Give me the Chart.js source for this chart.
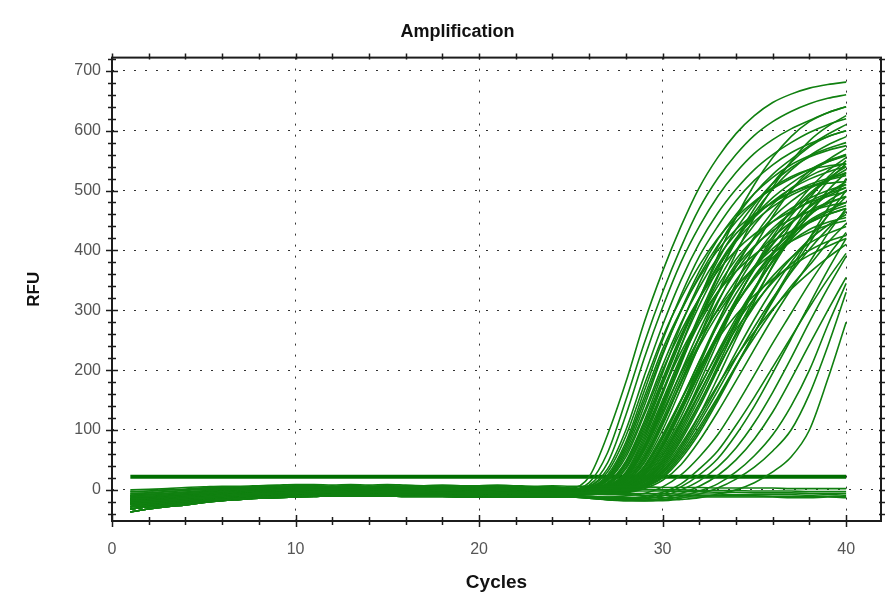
<!DOCTYPE html>
<html>
<head>
<meta charset="utf-8">
<title>Amplification</title>
<script src="https://cdn.jsdelivr.net/npm/chart.js@4.4.1/dist/chart.umd.min.js"></script>
<style>
  html, body { margin: 0; padding: 0; background: #fff; }
  canvas { display: block; }
</style>
</head>
<body>
<canvas id="ampChart" width="896" height="610"></canvas>
<script>
// ---- run data -------------------------------------------------------------
const cycles = [1, 2, 3, 4, 5, 6, 7, 8, 9, 10, 11, 12, 13, 14, 15, 16, 17, 18, 19, 20,
                21, 22, 23, 24, 25, 26, 27, 28, 29, 30, 31, 32, 33, 34, 35, 36, 37, 38, 39, 40];
const xTicks = [0, 10, 20, 30, 40];
const yTicks = [0, 100, 200, 300, 400, 500, 600, 700];
const thresholdRFU = 22;

// baseline-subtracted drift, cycles 1-24 (shared by groups of wells)
const baselineDrift = [
  [0, 1, 2, 4, 5, 6, 6, 7, 8, 9, 9, 8, 9, 8, 9, 8, 7, 8, 7, 7, 8, 7, 6, 7],
  [-3, -2, 0, 1, 3, 4, 5, 5, 6, 7, 7, 6, 7, 6, 7, 6, 6, 5, 6, 5, 6, 5, 5, 5],
  [-6, -5, -3, -1, 1, 2, 3, 4, 4, 5, 5, 5, 6, 5, 5, 4, 5, 4, 4, 3, 4, 4, 3, 4],
  [-9, -8, -6, -4, -2, 0, 1, 2, 3, 4, 4, 3, 4, 4, 3, 3, 3, 2, 3, 2, 2, 3, 2, 2],
  [-12, -11, -9, -7, -5, -3, -1, 0, 1, 2, 2, 2, 3, 2, 2, 1, 2, 1, 1, 0, 1, 1, 0, 1],
  [-15, -14, -12, -9, -7, -5, -3, -2, -1, 0, 1, 0, 1, 1, 0, 0, 0, -1, 0, -1, -1, 0, -1, -1],
  [-18, -17, -14, -12, -9, -7, -5, -4, -3, -2, -1, -1, 0, -1, -1, -2, -1, -2, -2, -3, -2, -2, -3, -2],
  [-21, -19, -17, -14, -12, -9, -7, -6, -5, -4, -3, -3, -2, -3, -3, -3, -3, -4, -4, -4, -4, -4, -5, -4],
  [-24, -22, -19, -16, -14, -11, -9, -8, -7, -6, -5, -4, -4, -4, -5, -5, -5, -5, -6, -6, -5, -6, -6, -6],
  [-28, -25, -22, -19, -16, -13, -11, -10, -9, -8, -7, -6, -6, -6, -6, -7, -7, -7, -7, -8, -7, -8, -8, -8],
  [-32, -28, -25, -22, -18, -16, -14, -12, -11, -10, -9, -8, -8, -8, -8, -8, -9, -9, -9, -9, -10, -10, -10, -10],
  [-37, -32, -28, -25, -21, -18, -16, -14, -13, -12, -11, -10, -10, -10, -10, -11, -11, -11, -12, -12, -12, -12, -12, -12]
];

// amplifying wells, cycles 25-40
const riseCurves = [
  [3, 22, 92, 180, 280, 365, 440, 505, 555, 595, 625, 647, 661, 671, 677, 681],
  [2, 12, 62, 150, 245, 330, 405, 470, 520, 560, 592, 615, 632, 645, 654, 660],
  [1, 8, 45, 125, 220, 305, 380, 440, 490, 530, 562, 585, 603, 617, 630, 640],
  [1, 6, 35, 100, 190, 275, 350, 412, 462, 502, 535, 560, 580, 597, 610, 620],
  [0, 5, 30, 90, 175, 255, 320, 375, 420, 455, 482, 503, 520, 535, 548, 558],
  [0, 4, 25, 80, 165, 250, 325, 390, 440, 483, 517, 543, 563, 578, 590, 600],
  [0, 4, 22, 75, 155, 235, 300, 355, 400, 435, 460, 480, 496, 510, 520, 528],
  [0, 3, 18, 65, 140, 225, 300, 365, 418, 460, 495, 522, 543, 558, 570, 580],
  [0, 2, 15, 55, 125, 200, 265, 320, 365, 400, 427, 448, 465, 480, 490, 498],
  [0, 2, 12, 48, 115, 195, 275, 345, 405, 455, 495, 527, 552, 575, 594, 610],
  [-1, 2, 10, 42, 105, 180, 255, 320, 375, 420, 455, 482, 503, 519, 531, 540],
  [-1, 1, 8, 35, 95, 165, 230, 285, 330, 365, 393, 415, 432, 447, 460, 470],
  [-2, 1, 7, 30, 90, 165, 240, 308, 368, 418, 457, 488, 512, 532, 548, 560],
  [-2, 0, 6, 26, 80, 150, 222, 285, 340, 385, 420, 448, 470, 487, 500, 510],
  [-2, 0, 5, 22, 70, 140, 218, 292, 358, 415, 463, 502, 534, 558, 576, 590],
  [-3, -1, 4, 20, 65, 130, 195, 253, 300, 340, 370, 395, 415, 430, 442, 450],
  [-3, -1, 3, 18, 60, 125, 197, 266, 327, 378, 420, 455, 482, 503, 518, 530],
  [-3, -2, 2, 15, 52, 112, 180, 245, 302, 350, 390, 422, 447, 466, 480, 490],
  [-4, -2, 1, 12, 45, 100, 170, 242, 312, 372, 423, 465, 500, 528, 551, 570],
  [-4, -3, 0, 10, 40, 92, 150, 205, 252, 292, 325, 352, 373, 392, 407, 420],
  [-4, -3, 0, 9, 36, 85, 148, 215, 280, 338, 388, 430, 465, 495, 520, 540],
  [-5, -3, -1, 7, 30, 75, 135, 198, 258, 310, 355, 393, 425, 450, 467, 480],
  [-5, -4, -2, 6, 27, 70, 130, 195, 260, 318, 368, 410, 445, 474, 495, 510],
  [-5, -4, -2, 4, 23, 62, 115, 172, 228, 278, 320, 357, 388, 412, 428, 440],
  [-6, -5, -3, 3, 20, 58, 112, 178, 247, 313, 372, 423, 466, 503, 533, 555],
  [-6, -5, -3, 2, 17, 50, 100, 160, 222, 282, 336, 383, 423, 458, 482, 500],
  [-7, -6, -4, 1, 14, 44, 90, 145, 203, 258, 307, 350, 387, 418, 442, 460],
  [-7, -6, -4, 0, 12, 38, 82, 138, 200, 262, 320, 373, 420, 460, 500, 530],
  [-7, -6, -5, -1, 10, 35, 76, 125, 175, 222, 264, 302, 335, 363, 388, 410],
  [-8, -7, -5, -2, 8, 30, 68, 118, 173, 230, 285, 335, 380, 420, 458, 490],
  [-8, -7, -6, -3, 6, 25, 60, 105, 155, 207, 255, 300, 340, 375, 413, 445],
  [-8, -8, -6, -4, 4, 20, 52, 95, 148, 205, 262, 318, 370, 420, 470, 520],
  [-9, -8, -7, -5, 2, 16, 42, 82, 130, 182, 235, 287, 335, 380, 428, 470],
  [-10, -11, -12, -10, -6, 5, 25, 55, 92, 140, 192, 245, 295, 345, 390, 430],
  [-9, -11, -13, -13, -11, -4, 10, 35, 65, 108, 155, 205, 255, 305, 352, 395],
  [-10, -12, -14, -15, -13, -7, 5, 25, 52, 92, 140, 195, 252, 310, 367, 420],
  [-10, -12, -15, -16, -15, -10, 0, 15, 38, 70, 112, 163, 220, 280, 337, 390],
  [-11, -13, -16, -17, -17, -14, -6, 6, 24, 50, 85, 130, 185, 243, 300, 355],
  [-12, -14, -17, -18, -18, -16, -11, -2, 10, 30, 57, 92, 140, 200, 275, 345],
  [-12, -14, -16, -18, -18, -17, -14, -7, 3, 18, 38, 65, 100, 160, 240, 330],
  [-12, -14, -16, -17, -18, -18, -16, -13, -7, 0, 12, 30, 55, 100, 185, 280],
  [0, 3, 16, 60, 130, 208, 278, 338, 388, 428, 458, 481, 497, 507, 512, 515],
  [-1, 1, 9, 38, 100, 175, 250, 320, 383, 435, 477, 512, 538, 556, 567, 575],
  [-2, 0, 5, 24, 75, 145, 215, 278, 330, 373, 407, 433, 452, 465, 474, 480],
  [-3, -1, 3, 16, 56, 118, 188, 255, 315, 365, 405, 437, 462, 482, 495, 505],
  [-4, -3, -1, 8, 33, 80, 140, 202, 260, 310, 352, 388, 415, 435, 447, 455],
  [-5, -4, -2, 5, 25, 66, 122, 188, 254, 316, 370, 418, 458, 492, 517, 535],
  [-6, -5, -3, 2, 18, 53, 105, 162, 218, 268, 310, 347, 377, 400, 415, 425],
  [-7, -6, -4, 0, 13, 41, 86, 143, 207, 272, 335, 393, 443, 487, 522, 550],
  [-8, -7, -6, -2, 7, 28, 64, 112, 165, 220, 272, 320, 363, 402, 436, 465],
  [-4, -2, 2, 13, 48, 108, 180, 255, 328, 395, 455, 505, 548, 583, 607, 625],
  [-2, 1, 7, 28, 85, 160, 240, 318, 390, 455, 510, 555, 590, 615, 630, 640],
  [-1, 1, 11, 45, 110, 185, 258, 320, 372, 415, 448, 473, 492, 506, 517, 525],
  [-2, 0, 5, 23, 72, 142, 215, 285, 347, 400, 443, 477, 504, 524, 537, 545],
  [-3, -2, 2, 15, 53, 113, 178, 240, 293, 337, 373, 403, 427, 446, 460, 470],
  [-4, -3, 0, 10, 38, 88, 150, 214, 275, 328, 373, 412, 445, 472, 491, 505],
  [-5, -4, -1, 7, 30, 76, 138, 208, 278, 345, 405, 457, 500, 533, 550, 560],
  [-6, -5, -3, 3, 20, 57, 110, 170, 230, 287, 337, 381, 418, 447, 464, 475],
  [-6, -5, -4, 1, 15, 47, 95, 153, 215, 277, 333, 383, 427, 465, 494, 515],
  [-7, -7, -5, -1, 9, 32, 72, 125, 187, 252, 315, 375, 428, 475, 515, 545],
  [-8, -7, -6, -3, 5, 22, 56, 100, 152, 207, 262, 315, 365, 412, 458, 500],
  [-3, -1, 4, 21, 67, 135, 210, 285, 355, 418, 470, 512, 547, 573, 590, 600],
  [0, 3, 20, 70, 148, 228, 298, 358, 408, 448, 480, 505, 523, 535, 541, 545],
  [-5, -4, -2, 6, 28, 72, 132, 195, 255, 310, 357, 397, 432, 460, 478, 490]
];
// which baseline row each amplifying well starts from
const riseBase = [1, 2, 3, 4, 4, 5, 3, 4, 5, 4, 5, 6, 6, 6, 5, 6, 7, 6, 7, 7, 8, 7, 8, 7, 8, 8,
                  9, 8, 9, 9, 10, 9, 10, 10, 9, 10, 11, 11, 11, 11, 11, 2, 3, 5, 6, 7, 8, 9, 10, 10, 6, 5,
                  5, 6, 7, 7, 8, 8, 9, 9, 10, 5, 4, 8];

// non-amplifying wells, cycles 25-40
const flatTails = [
  [6, 6, 5, 5, 5, 4, 4, 4, 3, 3, 3, 3, 2, 2, 2, 2],
  [3, 2, 2, 1, 1, 0, 0, -1, -1, -1, -2, -2, -2, -3, -3, -3],
  [2, 1, 0, -1, -2, -2, -3, -3, -4, -4, -5, -5, -5, -6, -6, -6],
  [-4, -5, -5, -6, -6, -6, -7, -7, -7, -8, -8, -8, -8, -9, -8, -9],
  [-6, -7, -8, -8, -9, -9, -9, -10, -10, -10, -10, -11, -11, -11, -11, -11],
  [-10, -11, -12, -13, -13, -13, -12, -12, -12, -12, -12, -12, -13, -13, -12, -13]
];
const flatBase = [0, 1, 3, 7, 8, 10];

// ---- drawing --------------------------------------------------------------
const FONT = "'Liberation Sans', Arial, sans-serif";
const curveColor = 'rgb(16, 128, 16)';

function wellSeries(base, tail) {
  return baselineDrift[base].concat(tail).map((rfu, i) => ({ x: cycles[i], y: rfu }));
}

const datasets = [];
flatTails.forEach((tail, i) => {
  datasets.push({ data: wellSeries(flatBase[i], tail), borderColor: curveColor });
});
riseCurves.forEach((tail, i) => {
  datasets.push({ data: wellSeries(riseBase[i], tail), borderColor: curveColor });
});
// threshold line
datasets.push({
  data: [{ x: cycles[0], y: thresholdRFU }, { x: cycles[cycles.length - 1], y: thresholdRFU }],
  borderColor: 'rgb(0, 110, 0)',
  borderWidth: 4,
  cubicInterpolationMode: 'default',
  tension: 0
});

// frame round the plot area, with major/minor tick marks on all four sides
const plotFrame = {
  id: 'plotFrame',
  afterDatasetsDraw(chart) {
    const { ctx, chartArea: a, scales: { x, y } } = chart;
    ctx.save();
    ctx.strokeStyle = '#1c1c1c';
    ctx.lineWidth = 2;
    ctx.strokeRect(a.left, a.top, a.right - a.left, a.bottom - a.top);
    ctx.lineWidth = 1.5;
    ctx.beginPath();
    for (let c = 0; c <= x.max; c += 2) {
      const px = Math.round(x.getPixelForValue(c)) + 0.5;
      const len = c % 10 === 0 ? 6 : 4;
      ctx.moveTo(px, a.bottom - len); ctx.lineTo(px, a.bottom + len);
      ctx.moveTo(px, a.top - 4); ctx.lineTo(px, a.top + 2);
    }
    for (let v = -40; v <= y.max; v += 20) {
      const py = Math.round(y.getPixelForValue(v)) + 0.5;
      const len = v % 100 === 0 ? 6 : 4;
      ctx.moveTo(a.left - len, py); ctx.lineTo(a.left + len, py);
      ctx.moveTo(a.right - 2, py); ctx.lineTo(a.right + 4, py);
    }
    ctx.stroke();
    ctx.restore();
  }
};

new Chart(document.getElementById('ampChart'), {
  type: 'line',
  data: { datasets },
  plugins: [plotFrame],
  options: {
    responsive: false,
    animation: false,
    devicePixelRatio: 1,
    layout: { padding: { left: 34, right: 15, top: 0, bottom: 0 } },
    datasets: {
      line: {
        borderWidth: 1.6,
        pointRadius: 0,
        fill: false,
        cubicInterpolationMode: 'monotone'
      }
    },
    plugins: {
      legend: { display: false },
      tooltip: { enabled: false },
      title: {
        display: true,
        text: 'Amplification',
        color: '#111',
        font: { family: FONT, size: 18, weight: 'bold' },
        padding: { top: 21, bottom: 15 }
      }
    },
    scales: {
      x: {
        type: 'linear',
        min: 0,
        max: 41.9,
        afterBuildTicks: (s) => { s.ticks = xTicks.map(v => ({ value: v })); },
        afterFit: (s) => { s.height = 89; },
        grid: { color: '#333', lineWidth: 1, drawTicks: false },
        border: { display: false, dash: [2, 9] },
        ticks: { color: '#555', padding: 19, font: { family: FONT, size: 16 } },
        title: {
          display: true,
          text: 'Cycles',
          color: '#111',
          font: { family: FONT, size: 19, weight: 'bold' },
          padding: { top: 0, bottom: 16 }
        }
      },
      y: {
        min: -52,
        max: 722,
        afterBuildTicks: (s) => { s.ticks = yTicks.map(v => ({ value: v })); },
        afterFit: (s) => { s.width = 78; },
        grid: { color: '#333', lineWidth: 1, drawTicks: false },
        border: { display: false, dash: [2, 9] },
        ticks: { color: '#555', padding: 11, font: { family: FONT, size: 16 } },
        title: {
          display: true,
          text: 'RFU',
          color: '#111',
          font: { family: FONT, size: 17, weight: 'bold' },
          padding: { top: -10, bottom: 0 }
        }
      }
    }
  }
});
</script>
</body>
</html>
